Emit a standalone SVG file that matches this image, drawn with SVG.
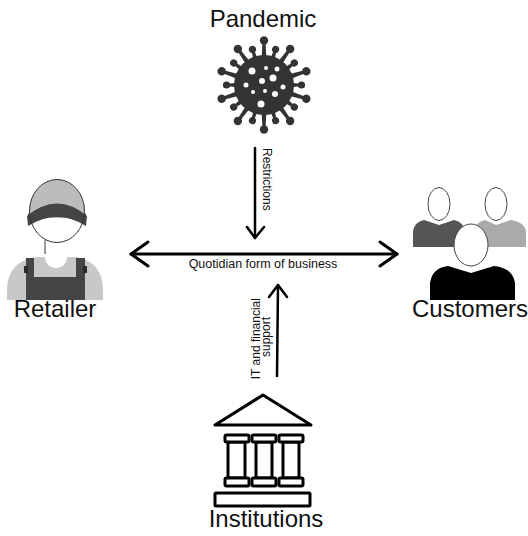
<svg xmlns="http://www.w3.org/2000/svg" width="528" height="536" viewBox="0 0 528 536">
  <defs>
    <style>
      .label { font-family: "Liberation Sans", Arial, sans-serif; fill: #111; }
      .title { font-size: 24px; }
      .small { font-size: 12px; }
      .conn { stroke: #000; fill: none; stroke-linecap: round; stroke-linejoin: round; }
      .bld { stroke: #000; stroke-width: 3; fill: #fff; stroke-linejoin: round; }
      .face { fill: #fff; stroke: #444; stroke-width: 1; }
    </style>
    <clipPath id="headClip">
      <ellipse cx="57" cy="211" rx="27.5" ry="31.5"/>
    </clipPath>
    <g id="spikeLong">
      <path d="M-2.4,-27 L-1.5,-43 L1.5,-43 L2.4,-27 Z" fill="#333"/>
      <circle cx="0" cy="-44.5" r="4.2" fill="#333"/>
    </g>
    <g id="spikeShort">
      <path d="M-2.2,-27 L-1.3,-36 L1.3,-36 L2.2,-27 Z" fill="#333"/>
      <circle cx="0" cy="-37.5" r="3.6" fill="#333"/>
    </g>
  </defs>

  <rect width="528" height="536" fill="#fff"/>

  <!-- Pandemic: virus particle -->
  <g id="pandemic">
    <text class="label title" x="263" y="27" text-anchor="middle">Pandemic</text>
    <g transform="translate(264,85)">
      <use href="#spikeLong" transform="rotate(0)"/>
      <use href="#spikeShort" transform="rotate(18)"/>
      <use href="#spikeLong" transform="rotate(36)"/>
      <use href="#spikeShort" transform="rotate(54)"/>
      <use href="#spikeLong" transform="rotate(72)"/>
      <use href="#spikeShort" transform="rotate(90)"/>
      <use href="#spikeLong" transform="rotate(108)"/>
      <use href="#spikeShort" transform="rotate(126)"/>
      <use href="#spikeLong" transform="rotate(144)"/>
      <use href="#spikeShort" transform="rotate(162)"/>
      <use href="#spikeLong" transform="rotate(180)"/>
      <use href="#spikeShort" transform="rotate(198)"/>
      <use href="#spikeLong" transform="rotate(216)"/>
      <use href="#spikeShort" transform="rotate(234)"/>
      <use href="#spikeLong" transform="rotate(252)"/>
      <use href="#spikeShort" transform="rotate(270)"/>
      <use href="#spikeLong" transform="rotate(288)"/>
      <use href="#spikeShort" transform="rotate(306)"/>
      <use href="#spikeLong" transform="rotate(324)"/>
      <use href="#spikeShort" transform="rotate(342)"/>
      <circle r="30" fill="#333"/>
    </g>
    <g fill="#fff">
      <circle cx="252" cy="71" r="3.5"/>
      <circle cx="266" cy="68" r="2"/>
      <circle cx="277" cy="69" r="2.5"/>
      <circle cx="246" cy="85" r="2.5"/>
      <circle cx="262" cy="81" r="3"/>
      <circle cx="273" cy="78" r="3.5"/>
      <circle cx="283" cy="87" r="2.5"/>
      <circle cx="253" cy="92" r="2"/>
      <circle cx="265" cy="91" r="2"/>
      <circle cx="275" cy="94" r="3"/>
      <circle cx="261" cy="104" r="3.5"/>
    </g>
  </g>

  <!-- Retailer: worker in cap and overalls -->
  <g id="retailer">
    <!-- shirt / shoulders -->
    <path d="M7,300 L7,288 Q8,262 36,257 L76,257 Q102,262 103,288 L103,300 Z" fill="#c8c8c8"/>
    <!-- collar opening -->
    <path d="M45,257 A11,11 0 0 0 67,257 Z" fill="#fff"/>
    <!-- overall straps and bib -->
    <rect x="26" y="258" width="8" height="22" fill="#444"/>
    <rect x="76" y="258" width="9" height="22" fill="#444"/>
    <rect x="24" y="266" width="4" height="7" fill="#2a2a2a"/>
    <rect x="83" y="266" width="4" height="7" fill="#2a2a2a"/>
    <rect x="26" y="277" width="59" height="23" fill="#444"/>
    <!-- neck -->
    <line x1="45" y1="240" x2="45" y2="254" stroke="#333" stroke-width="1"/>
    <!-- ears -->
    <path d="M30,212 q-3,3 0,9" fill="none" stroke="#333" stroke-width="1"/>
    <path d="M84,212 q3,3 0,9" fill="none" stroke="#333" stroke-width="1"/>
    <!-- head -->
    <ellipse cx="57" cy="211" rx="27.5" ry="31.5" fill="#fff"/>
    <g clip-path="url(#headClip)">
      <rect x="28" y="178" width="60" height="40" fill="#bcbcbc"/>
    </g>
    <!-- visor -->
    <path d="M27,216 Q57,191 87,216 L86,226 Q57,208 28,226 Z" fill="#444"/>
    <ellipse cx="57" cy="211" rx="27.5" ry="31.5" fill="none" stroke="#333" stroke-width="1"/>
    <text class="label title" x="55" y="317" text-anchor="middle">Retailer</text>
  </g>

  <!-- Customers: group of three people -->
  <g id="customers">
    <!-- back left -->
    <path d="M413,247 L413,232 Q414,222 424,220 L439,225 L454,220 Q464,222 465,232 L465,247 Z" fill="#555"/>
    <ellipse class="face" cx="439" cy="204" rx="11" ry="16.5"/>
    <!-- back right -->
    <path d="M474,247 L474,232 Q475,222 485,220 L496,225 L511,220 Q525,222 526,232 L526,247 Z" fill="#aaa"/>
    <ellipse class="face" cx="496" cy="204" rx="11" ry="16.5"/>
    <!-- front -->
    <path d="M430,300 L430,283 Q432,268 448,266 L471,273 L494,266 Q513,268 515,283 L515,300 Z" fill="#000"/>
    <ellipse class="face" cx="471" cy="245" rx="17" ry="21"/>
    <text class="label title" x="412" y="317">Customers</text>
  </g>

  <!-- Institutions: classical building -->
  <g id="institutions">
    <polygon class="bld" points="263,395 215,425 311,425"/>
    <rect class="bld" x="228" y="442" width="17" height="36"/>
    <rect class="bld" x="225" y="435" width="24" height="7" rx="1.5"/>
    <rect class="bld" x="225" y="478" width="24" height="8" rx="1.5"/>
    <rect class="bld" x="256" y="442" width="16" height="36"/>
    <rect class="bld" x="252" y="435" width="24" height="7" rx="1.5"/>
    <rect class="bld" x="252" y="478" width="24" height="8" rx="1.5"/>
    <rect class="bld" x="283" y="442" width="16" height="36"/>
    <rect class="bld" x="279" y="435" width="24" height="7" rx="1.5"/>
    <rect class="bld" x="279" y="478" width="24" height="8" rx="1.5"/>
    <rect class="bld" x="215" y="493" width="95" height="13" rx="1"/>
    <text class="label title" x="266" y="527" text-anchor="middle">Institutions</text>
  </g>

  <!-- Connectors -->
  <g id="connectors">
    <!-- Quotidian form of business (two-way) -->
    <line class="conn" x1="131" y1="254" x2="397" y2="254" stroke-width="3"/>
    <polyline class="conn" points="148,242 131,254 148,266" stroke-width="3"/>
    <polyline class="conn" points="380,242 397,254 380,266" stroke-width="3"/>
    <text class="label" x="263" y="268" text-anchor="middle" font-size="12.5">Quotidian form of business</text>

    <!-- Restrictions -->
    <line class="conn" x1="255" y1="148" x2="255" y2="238" stroke-width="2.5"/>
    <polyline class="conn" points="247,227 255,238 264,227" stroke-width="2.5"/>
    <text class="label small" transform="translate(263,148) rotate(90)">Restrictions</text>

    <!-- IT and financial support -->
    <line class="conn" x1="277" y1="376" x2="278" y2="285" stroke-width="2.5"/>
    <polyline class="conn" points="269,297 278,285 287,297" stroke-width="2.5"/>
    <text class="label small" text-anchor="middle" transform="translate(260,337) rotate(-90)">
      <tspan x="0" y="0">IT and financial</tspan>
      <tspan x="0" y="10">support</tspan>
    </text>
  </g>
</svg>
